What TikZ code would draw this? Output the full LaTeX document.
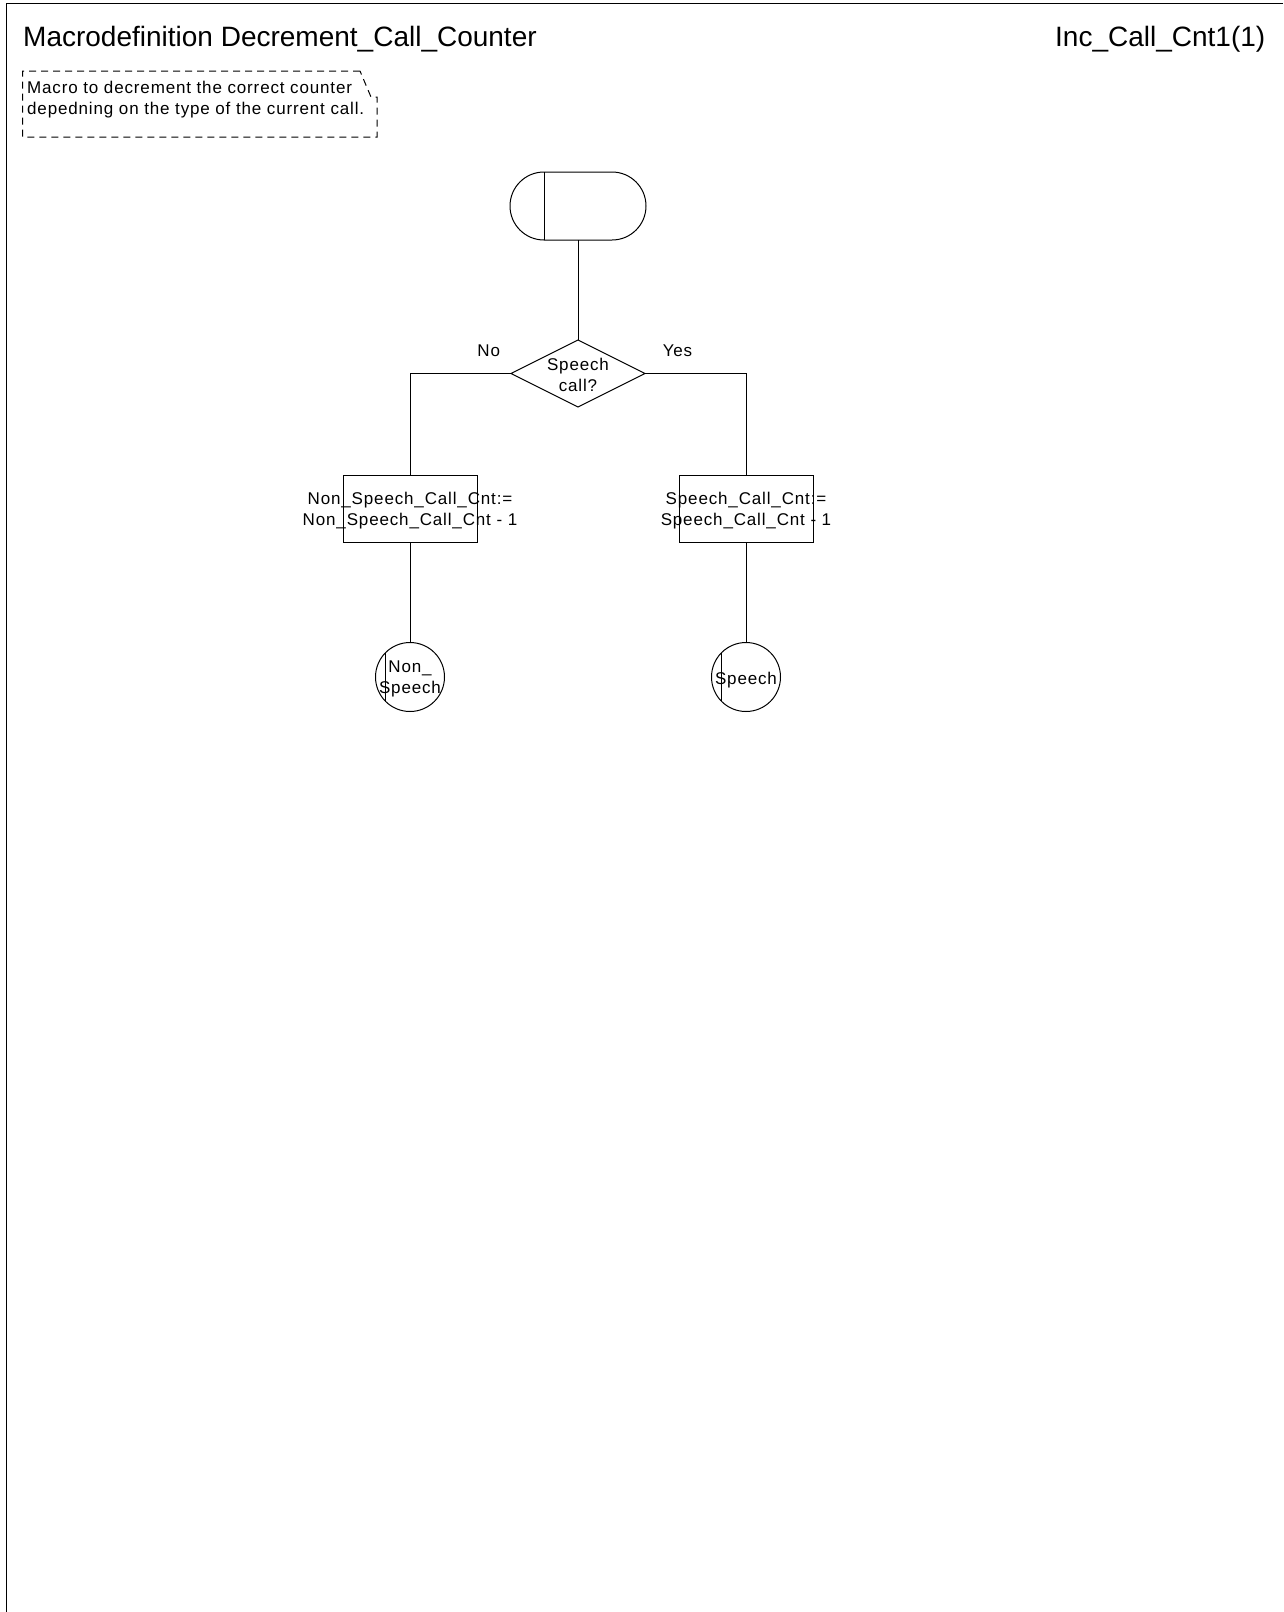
\documentclass[tikz,border=0pt]{standalone}
\usepackage{fontspec}
\setmainfont{Liberation Sans}
\newfontfamily\smallfam[LetterSpace=5.0]{Liberation Sans}
\usetikzlibrary{shapes.geometric}
\tikzset{
  ln/.style={line width=1pt, draw=black},
  txt/.style={font=\smallfam\fontsize{17}{21}\selectfont, inner sep=0pt, align=center},
  bigtxt/.style={font=\fontsize{28}{32}\selectfont, inner sep=0pt},
  taskbox/.style={ln, rectangle, minimum width=134pt, minimum height=67pt, inner sep=0pt, outer sep=0pt},
  connect/.style={ln, circle, minimum size=69pt, inner sep=0pt, outer sep=0pt},
  decide/.style={ln, diamond, minimum width=134pt, minimum height=67pt, inner sep=0pt, outer sep=0pt},
  startsym/.style={ln, rectangle, rounded corners=34pt, minimum width=136pt, minimum height=68pt, inner sep=0pt, outer sep=0pt},
  note/.style={line width=1pt, draw=black, dash pattern=on 7pt off 5pt}
}
\begin{document}
\begin{tikzpicture}[x=1pt,y=-1pt]
\useasboundingbox (0,0) rectangle (1283,1612);
% frame
\coordinate (ftr) at (1283,3);
\coordinate (ftl) at (6,3);
\coordinate (fbl) at (6,1612);
\draw[ln] (ftr) -- (ftl) -- (fbl);
% titles
\node[bigtxt, anchor=base west] (title) at (23,46) {Macrodefinition Decrement\_Call\_Counter};
\node[bigtxt, anchor=base west] (page) at (1055,46) {Inc\_Call\_Cnt1(1)};
% comment
\draw[note] (360,71) -- (22.7,71) -- (22.7,137) -- (377,137) -- (377,97) -- (371,97) -- (360,71);
\node[txt, anchor=base west, align=left] (cm1) at (27,93.3) {Macro to decrement the correct counter};
\node[txt, anchor=base west, align=left] (cm2) at (27,114) {depedning on the type of the current call.};
% start
\node[startsym] (start) at (578,206) {};
\draw[ln] ([xshift=34pt]start.north west) -- ([xshift=34pt]start.south west);
% decision
\node[decide] (dec) at (578,373.5) {};
\node[txt] (dectext) at (578,374.5) {Speech\\call?};
\node[txt, anchor=base] (no) at (488.7,356.7) {No};
\node[txt, anchor=base] (yes) at (677.5,356.7) {Yes};
% tasks
\node[taskbox] (b1) at (410,508.5) {};
\node[txt] (b1text) at (410,511) {Non\_Speech\_Call\_Cnt:=\\Non\_Speech\_Call\_Cnt - 1};
\node[taskbox] (b2) at (746,508.5) {};
\node[txt] (b2text) at (746,511) {Speech\_Call\_Cnt:=\\Speech\_Call\_Cnt - 1};
% connectors
\node[connect] (c1) at (410,677) {};
\draw[ln] (c1.135) -- (c1.225);
\node[txt] (c1text) at (410,679) {Non\_\\Speech};
\node[connect] (c2) at (746,677) {};
\draw[ln] (c2.135) -- (c2.225);
\node[txt] (c2text) at (746,680) {Speech};
% lines
\draw[ln] (start.south) -- (dec.north);
\draw[ln] (dec.west) -| (b1.north);
\draw[ln] (dec.east) -| (b2.north);
\draw[ln] (b1.south) -- (c1.north);
\draw[ln] (b2.south) -- (c2.north);
\end{tikzpicture}
\end{document}
